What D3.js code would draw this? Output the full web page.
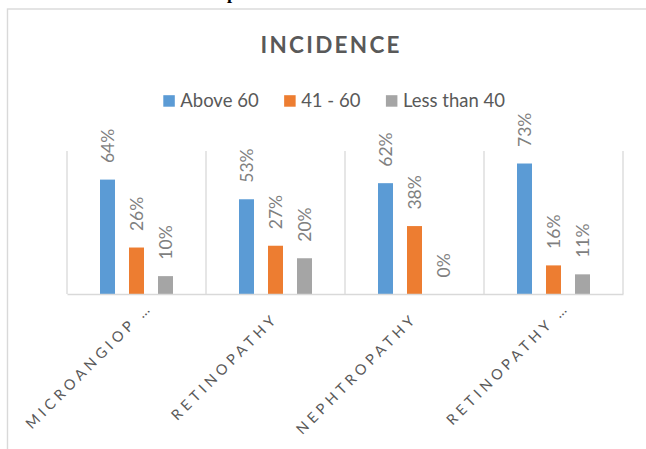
<!DOCTYPE html>
<html><head><meta charset="utf-8">
<script src="https://cdnjs.cloudflare.com/ajax/libs/d3/7.8.5/d3.min.js"></script>
<style>
html,body{margin:0;padding:0;background:#fff;}
svg{display:block;}
</style></head>
<body>
<script>
const categories = ["MICROANGIOP …", "RETINOPATHY", "NEPHTROPATHY", "RETINOPATHY …"];
const seriesNames = ["Above 60", "41 - 60", "Less than 40"];
const above60 = [0.64, 0.53, 0.62, 0.73];
const from41to60 = [0.26, 0.27, 0.38, 0.16];
const lessThan40 = [0.10, 0.20, 0.00, 0.11];
const colors = ["#5b9bd5", "#ed7d31", "#a5a5a5"];
const title = "INCIDENCE";
const yMax = 0.8;

const W = 646, H = 449;
const svg = d3.select("body").append("svg").attr("width", W).attr("height", H);
svg.append("rect").attr("width", W).attr("height", H).attr("fill", "#fff");

// cut-off caption from the document above
svg.append("text").attr("x", 227).attr("y", -1)
  .attr("font-family", "Liberation Serif").attr("font-weight", "bold")
  .attr("font-size", 18).attr("fill", "#000").text("p");

// chart area border
svg.append("rect").attr("x", 7.5).attr("y", 9).attr("width", 800).attr("height", 600)
  .attr("fill", "none").attr("stroke", "#d9d9d9").attr("stroke-width", 1.4);

const plot = {left: 67, right: 623, top: 151, bottom: 294};
const x0 = d3.scaleBand().domain(categories).range([plot.left, plot.right]);
const bw = x0.bandwidth();
const p = 14 / 29;
const x1 = d3.scaleBand().domain(seriesNames).range([0, bw]).paddingInner(p).paddingOuter(p/2 + ((bw / 29) - 3) / 2);
const y = d3.scaleLinear().domain([0, yMax]).range([plot.bottom, plot.top]);

const data = [above60, from41to60, lessThan40];

// vertical gridlines at category boundaries
const bounds = categories.map(c => x0(c)).concat([plot.right]);
svg.append("g").selectAll("line").data(bounds).join("line")
  .attr("x1", d => d).attr("x2", d => d)
  .attr("y1", plot.top).attr("y2", plot.bottom)
  .attr("stroke", "#d9d9d9").attr("stroke-width", 1.3);

// bars
const gBars = svg.append("g");
seriesNames.forEach((s, si) => {
  gBars.append("g").selectAll("rect").data(categories).join("rect")
    .attr("x", c => x0(c) + x1(s))
    .attr("width", x1.bandwidth())
    .attr("y", (c, i) => y(data[si][i]))
    .attr("height", (c, i) => plot.bottom - y(data[si][i]))
    .attr("fill", colors[si]);
});

// axis baseline
const xAxis = d3.axisBottom(x0).tickSize(0).tickFormat("");
const ax = svg.append("g").attr("transform", `translate(0,${plot.bottom})`).call(xAxis);
ax.select(".domain").attr("stroke", "#d9d9d9").attr("stroke-width", 1.6);

// data labels
const gLab = svg.append("g");
seriesNames.forEach((s, si) => {
  categories.forEach((c, i) => {
    const cx = x0(c) + x1(s) + x1.bandwidth() / 2;
    const ty = y(data[si][i]) - 16.5;
    gLab.append("text")
      .attr("transform", `translate(${cx},${ty}) rotate(-90)`)
      .attr("dy", "0.36em")
      .attr("font-family", "Lato").attr("font-size", 17.5)
      .attr("fill", "#7f7f7f")
      .text(d3.format(".0%")(data[si][i]));
  });
});

// category labels
const gCat = svg.append("g");
const ls = 4.2;
categories.forEach(c => {
  const trunc = c.endsWith("…");
  const cx = x0(c) + bw / 2;
  let ax_ = cx + 1, ay = 322;
  if (trunc) { ax_ = cx + 14; ay = 311; }
  // compensate the trailing letter-spacing along the baseline
  ax_ += ls * 0.707; ay -= ls * 0.707;
  gCat.append("text")
    .attr("transform", `translate(${ax_},${ay}) rotate(-45)`)
    .attr("text-anchor", "end")
    .attr("font-family", "Lato").attr("font-size", 14.5)
    .attr("letter-spacing", ls)
    .attr("fill", "#595959")
    .text(c);
});

// title
svg.append("text").attr("x", 330).attr("y", 53.3)
  .attr("text-anchor", "middle")
  .attr("font-family", "Lato").attr("font-weight", "bold").attr("font-size", 22.5)
  .attr("textLength", 139).attr("lengthAdjust", "spacing")
  .attr("fill", "#595959").text(title);

// legend
const gLeg = svg.append("g");
let lx = 163.3;
seriesNames.forEach((s, si) => {
  gLeg.append("rect").attr("x", lx).attr("y", 95.2).attr("width", 11.5).attr("height", 11.5).attr("fill", colors[si]);
  const t = gLeg.append("text").attr("x", lx + 17).attr("y", 106.6)
    .attr("font-family", "Lato").attr("font-size", 18.5).attr("fill", "#595959").text(s);
  lx += 17 + t.node().getComputedTextLength() + 25.5;
});
</script>
</body></html>
